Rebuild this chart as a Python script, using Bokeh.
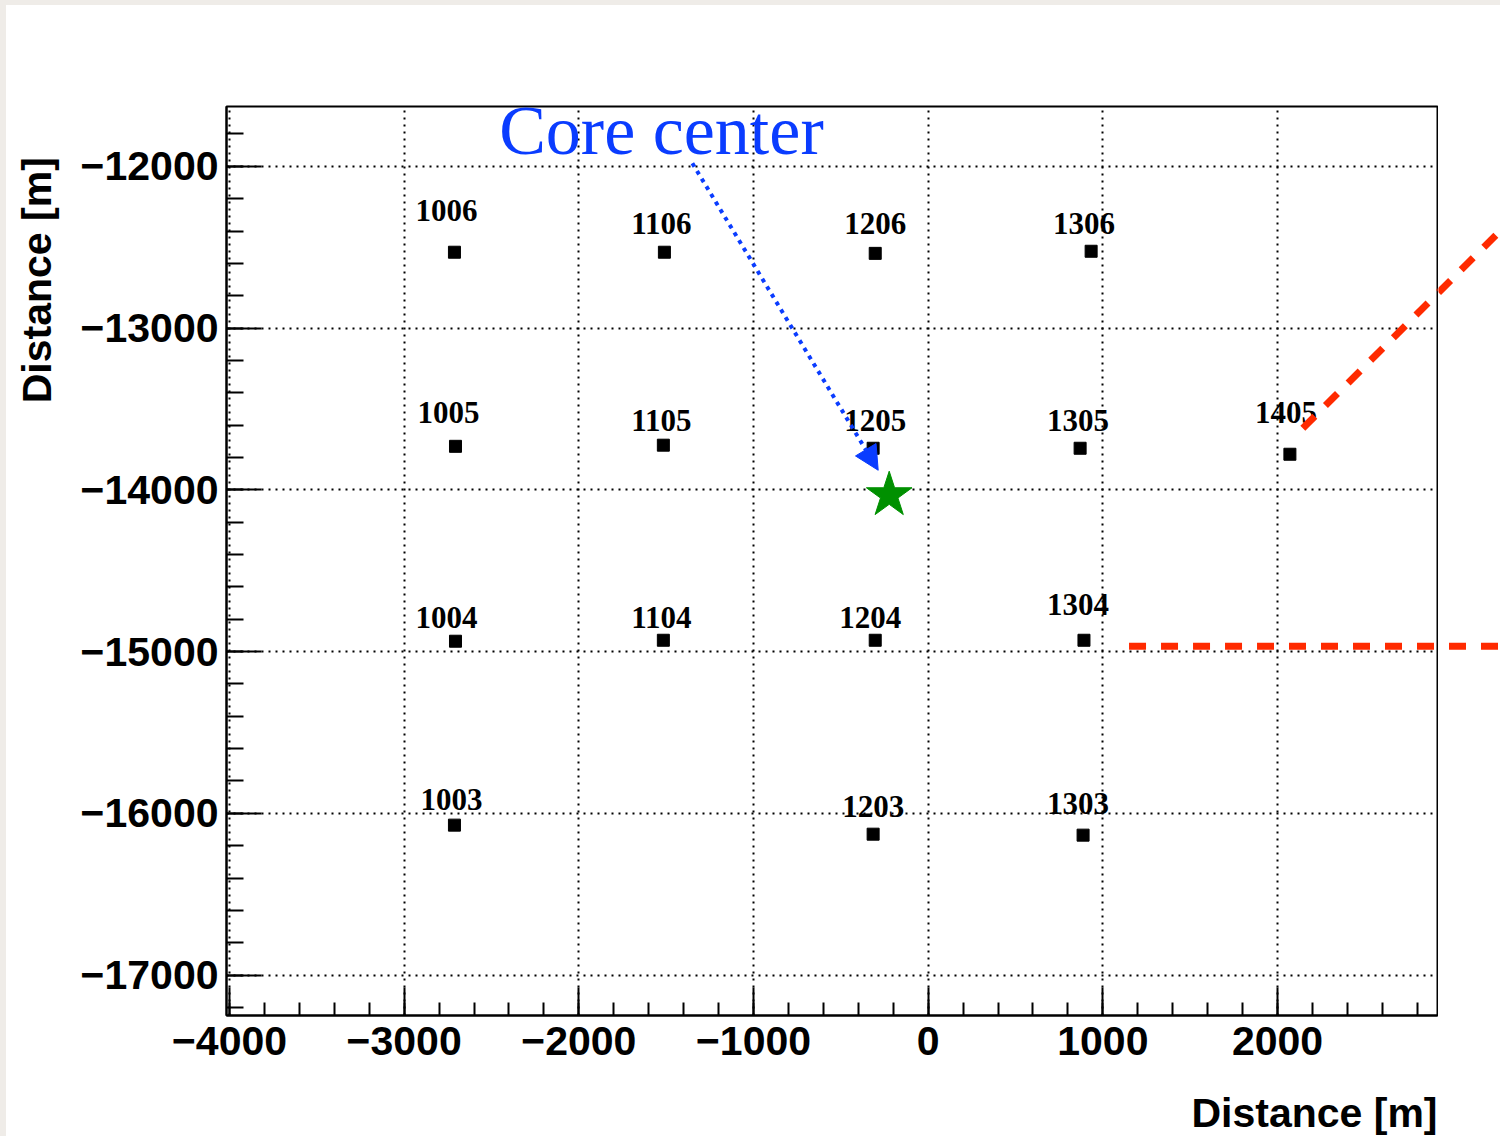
import math
from bokeh.plotting import figure
from bokeh.models import (Range1d, FixedTicker, Label, Arrow, NormalHead,
                          ColumnDataSource)
from bokeh.layouts import row, column
from bokeh.core.properties import value
from bokeh.embed import file_html
from bokeh.resources import INLINE

# ---- data ----
station_ids = ["1006", "1106", "1206", "1306",
               "1005", "1105", "1205", "1305", "1405",
               "1004", "1104", "1204", "1304",
               "1003", "1203", "1303"]
station_x = [-2712, -1510, -303, 933,
             -2706, -1516, -315, 870, 2071,
             -2706, -1516, -303, 892,
             -2712, -315, 887]
station_y = [-12531, -12531, -12538, -12525,
             -13731, -13724, -13743, -13743, -13780,
             -14936, -14930, -14930, -14930,
             -16073, -16129, -16135]
label_x = [-2757, -1527, -303, 892,
           -2746, -1527, -303, 858, 2048,
           -2757, -1527, -332, 858,
           -2729, -315, 858]
label_y = [-12272, -12352, -12352, -12352,
           -13520, -13570, -13570, -13570, -13520,
           -14787, -14787, -14787, -14707,
           -15912, -15955, -15937]
core_x = [-223]
core_y = [-14033]
arrow_start = (-1350, -11981)
arrow_end = (-286, -13879)
red_diag = ((2145, -13619), (3261, -12414))
red_horiz = ((1150, -14967), (3280, -14967))

x_lo, x_hi = -4017, 2916
x_side_lo, x_side_hi = 2922, 3277   # strip right of the box, where the red lines run on
y_lo, y_hi = -17250, -11630

x_major = [-4000, -3000, -2000, -1000, 0, 1000, 2000]
x_minor = list(range(-4000, 2801, 200))
y_major = [-17000, -16000, -15000, -14000, -13000, -12000]
y_minor = list(range(-17200, -11799, 200))

axis_title = "Distance [m]"
RED = "#ff2a00"
BLUE = "#0a3cff"

def lab(v):
    return ("\u2212" + str(abs(v))) if v < 0 else str(v)

def bare(width, height, xr, yr, top=0, bottom=0):
    f = figure(width=width, height=height, x_range=xr, y_range=yr,
               output_backend="svg", toolbar_location=None,
               x_axis_type=None, y_axis_type=None,
               min_border_left=0, min_border_right=0,
               min_border_top=top, min_border_bottom=bottom)
    f.outline_line_color = None
    f.background_fill_color = "white"
    f.border_fill_color = "white"
    f.xgrid.visible = False
    f.ygrid.visible = False
    return f

MAIN_H = 1072

# ---- main plot ----
p = figure(width=1362, height=MAIN_H,
           x_range=Range1d(x_lo, x_hi), y_range=Range1d(y_lo, y_hi),
           output_backend="svg", toolbar_location=None,
           min_border_left=150, min_border_right=1,
           min_border_top=101, min_border_bottom=62)
p.background_fill_color = "white"
p.border_fill_color = "white"
p.outline_line_color = "black"
p.outline_line_width = 2

for ax, maj, mnr, tin, tmin in ((p.xaxis[0], x_major, x_minor, 28, 13),
                                (p.yaxis[0], y_major, y_minor, 35, 17)):
    ax.ticker = FixedTicker(ticks=maj, minor_ticks=mnr)
    ax.major_label_overrides = {float(v): lab(v) for v in maj}
    ax.major_tick_in = tin
    ax.major_tick_out = 0
    ax.minor_tick_in = tmin
    ax.minor_tick_out = 0
    ax.major_tick_line_width = 2
    ax.minor_tick_line_width = 2
    ax.major_tick_line_color = "black"
    ax.minor_tick_line_color = "black"
    ax.axis_line_width = 2
    ax.axis_line_color = "black"
    ax.major_label_text_font = "Liberation Sans"
    ax.major_label_text_font_style = "bold"
    ax.major_label_text_font_size = "41px"
    ax.major_label_text_color = "black"
p.xaxis.major_label_standoff = 11
p.yaxis.major_label_standoff = 8

for g in (p.xgrid[0], p.ygrid[0]):
    g.grid_line_color = "black"
    g.grid_line_width = 2
    g.grid_line_dash = "2 5"

src = ColumnDataSource(dict(x=station_x, y=station_y))
p.scatter("x", "y", source=src, marker="square", size=12,
          fill_color="black", line_color="black")

lsrc = ColumnDataSource(dict(x=label_x, y=label_y, t=station_ids))
p.text("x", "y", text="t", source=lsrc, text_align="center",
       text_baseline="middle", text_font=value("Liberation Serif"),
       text_font_size="31px", text_font_style="bold", text_color="black")

p.scatter(core_x, core_y, marker="star", size=48,
          fill_color="#009000", line_color="#009000")

p.add_layout(Arrow(x_start=arrow_start[0], y_start=arrow_start[1],
                   x_end=arrow_end[0], y_end=arrow_end[1],
                   line_color=BLUE, line_width=4, line_dash="4 5",
                   end=NormalHead(size=24, fill_color=BLUE, line_color=BLUE)))

p.add_layout(Label(x=-1527, y=-11777, text="Core center",
                   text_align="center", text_baseline="middle",
                   text_font="Liberation Serif", text_font_size="70px",
                   text_color=BLUE))

# ---- narrow strip right of the box: the red lines continue there ----
p2 = bare(62, MAIN_H, Range1d(x_side_lo, x_side_hi), Range1d(y_lo, y_hi),
          top=101, bottom=62)

for fig in (p, p2):
    for (a, b) in (red_diag, red_horiz):
        fig.segment(x0=[a[0]], y0=[a[1]], x1=[b[0]], y1=[b[1]],
                    line_color=RED, line_width=7, line_dash="17 15")

# ---- left strip holding the y-axis title (pixel coordinates) ----
# text starts at its anchor (bottom) and runs upward to the top of the box
pl = bare(70, MAIN_H, Range1d(0, 70), Range1d(0, MAIN_H))
pl.add_layout(Label(x=30, y=MAIN_H - 350, text=axis_title, angle=math.pi / 2,
                    text_align="left", text_baseline="middle",
                    text_font="Liberation Sans", text_font_style="bold",
                    text_font_size="41px", text_color="black"))

# ---- bottom strip holding the x-axis title (pixel coordinates) ----
BOT_H = 1136 - 5 - MAIN_H
pb = bare(1494, BOT_H, Range1d(0, 1494), Range1d(0, BOT_H))
pb.add_layout(Label(x=1431, y=24, text=axis_title,
                    text_align="right", text_baseline="middle",
                    text_font="Liberation Sans", text_font_style="bold",
                    text_font_size="41px", text_color="black"))

inner = column(row(pl, p, p2), pb, margin=(5, 0, 0, 6),
               styles={"background-color": "white"})
layout = column(inner, styles={"background-color": "#efece8"})
open("out.html", "w").write(file_html(layout, INLINE))
